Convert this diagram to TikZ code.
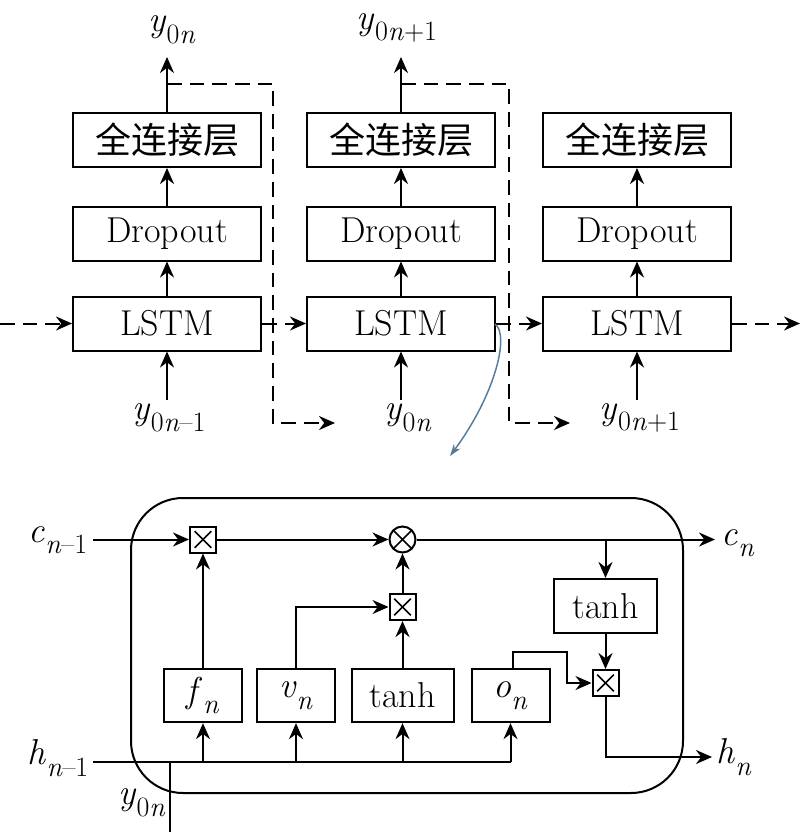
\documentclass[tikz,border=0pt]{standalone}
\usepackage{fontspec}
\newfontfamily\cjk{Noto Sans CJK SC}
\usetikzlibrary{arrows.meta}
\definecolor{lnk}{RGB}{84,122,156}
\newcommand\ssub[2]{#1\raisebox{-0.32em}{\fontsize{21}{22}\selectfont #2}}
\begin{document}
\begin{tikzpicture}[x=0.75pt,y=-0.75pt,line width=1.5pt,
  arr/.style={-{Stealth[length=12pt,width=10.5pt]}},
  dsh/.style={dash pattern=on 11pt off 6pt},
  box/.style={draw,inner sep=0,minimum height=40.5pt,font=\fontsize{27}{28}\selectfont},
  wbox/.style={box,minimum width=141pt},
  gbox/.style={box,minimum width=58.5pt,minimum height=40pt},
  lbl/.style={inner sep=0,font=\fontsize{27}{28}\selectfont},
  mulbox/.style={draw,inner sep=0,minimum size=19.5pt,path picture={
     \draw[line width=1.2pt] ([shift={(3.5pt,-3.5pt)}]path picture bounding box.north west) -- ([shift={(-3.5pt,3.5pt)}]path picture bounding box.south east);
     \draw[line width=1.2pt] ([shift={(3.5pt,3.5pt)}]path picture bounding box.south west) -- ([shift={(-3.5pt,-3.5pt)}]path picture bounding box.north east);}},
  addc/.style={draw,circle,inner sep=0,minimum size=19.5pt,path picture={
     \draw[line width=1.2pt] (path picture bounding box.north west) -- (path picture bounding box.south east);
     \draw[line width=1.2pt] (path picture bounding box.south west) -- (path picture bounding box.north east);}}
]
\useasboundingbox (0,0) rectangle (801,832);

% ---------- top: three columns ----------
\foreach \i/\x in {1/167,2/401,3/637}{
  \node[wbox] (fc\i) at (\x,140) {\cjk 全连接层};
  \node[wbox] (dr\i) at (\x,233.5) {Dropout};
  \node[wbox] (ls\i) at (\x,323.5) {LSTM};
  \draw[arr] (ls\i.north) -- (dr\i.south);
  \draw[arr] (dr\i.north) -- (fc\i.south);
  \coordinate (in\i) at (\x,400);
  \draw[arr] (in\i) -- (ls\i.south);
}
\node[lbl] (yt1) at (172,30) {\ssub{\textit{y}}{0\textit{n}}};
\node[lbl] (yt2) at (397,28) {\ssub{\textit{y}}{0\textit{n}+1}};
\coordinate (o1) at (167,57);
\coordinate (o2) at (401,57);
\draw[arr] (fc1.north) -- (o1);
\draw[arr] (fc2.north) -- (o2);

\node[lbl] (yb1) at (169,418) {\ssub{\textit{y}}{0\textit{n}–1}};
\node[lbl] (yb2) at (408,418) {\ssub{\textit{y}}{0\textit{n}}};
\node[lbl] (yb3) at (640,418) {\ssub{\textit{y}}{0\textit{n}+1}};

% dashed feedback
\coordinate (d1) at (167,84);
\coordinate (e1) at (335,423);
\draw[dsh,arr] (d1) -| (273,423) -- (e1);
\coordinate (d2) at (401,84);
\coordinate (e2) at (570,423);
\draw[dsh,arr] (d2) -| (509,423) -- (e2);

% horizontal recurrent
\coordinate (lin) at (0,323.5);
\coordinate (lout) at (800,323.5);
\draw[dsh,arr] (lin) -- (ls1.west);
\draw[dsh,arr] (ls1.east) -- (ls2.west);
\draw[dsh,arr] (ls2.east) -- (ls3.west);
\draw[dsh,arr] (ls3.east) -- (lout);

% blue curve
\coordinate (bs) at (495,324);
\coordinate (be) at (450,456);
\draw[lnk,line width=1.1pt,-{Stealth[length=9pt,width=6pt]}] (bs) .. controls (510,335) and (495,395) .. (be);

% ---------- bottom: LSTM cell ----------
\draw[rounded corners=39pt] (131,498) rectangle (683,793);

\node[mulbox] (m1) at (203,539.5) {};
\node[addc] (ad) at (402.5,539.5) {};
\node[mulbox] (m2) at (402.5,607) {};
\node[mulbox] (m3) at (605.5,683) {};
\node[box,minimum width=77pt] (th2) at (605.5,606) {tanh};

\node[gbox] (fn) at (203,695.5) {\ssub{\textit{f}}{\textit{n}}};
\node[gbox] (vn) at (296,695.5) {\ssub{\textit{v}}{\textit{n}}};
\node[box,minimum width=76.5pt,minimum height=40pt] (th1) at (402.5,695.5) {tanh};
\node[gbox] (on) at (510.5,695.5) {\ssub{\textit{o}}{\textit{n}}};

\node[lbl] (cin) at (58,540) {\ssub{\textit{c}}{\textit{n}–1}};
\node[lbl] (hin) at (58,758) {\ssub{\textit{h}}{\textit{n}–1}};
\node[lbl] (cout) at (738,543) {\ssub{\textit{c}}{\textit{n}}};
\node[lbl] (hout) at (734,757) {\ssub{\textit{h}}{\textit{n}}};
\node[lbl] (yin) at (142,803) {\ssub{\textit{y}}{0\textit{n}}};

% c line
\coordinate (cs) at (93,539.5);
\coordinate (ce) at (715,539.5);
\draw[arr] (cs) -- (m1.west);
\draw[arr] (m1.east) -- (ad.west);
\draw[arr] (ad.east) -- (ce);
\coordinate (br) at (605.5,539.5);
\draw[arr] (br) -- (th2.north);
\draw[arr] (th2.south) -- (m3.north);
\coordinate (ho) at (712,757);
\draw[arr] (m3.south) |- (ho);

% h line
\coordinate (hs) at (93,762);
\coordinate (hc) at (510.5,762);
\draw (hs) -- (hc);
\draw[arr] (hc) -- (on.south);
\draw[arr] (fn.south |- hs) -- (fn.south);
\draw[arr] (vn.south |- hs) -- (vn.south);
\draw[arr] (th1.south |- hs) -- (th1.south);
\coordinate (yv) at (170,762);
\coordinate (yb) at (170,832);
\draw (yv) -- (yb);

% gates
\draw[arr] (fn.north) -- (m1.south);
\draw[arr] (vn.north) |- (m2.west);
\draw[arr] (th1.north) -- (m2.south);
\draw[arr] (m2.north) -- (ad.south);
\coordinate (ot) at (513,652);
\draw[arr] (on.north -| ot) -- (ot) -| (567,683) -- (m3.west);
\end{tikzpicture}
\end{document}
